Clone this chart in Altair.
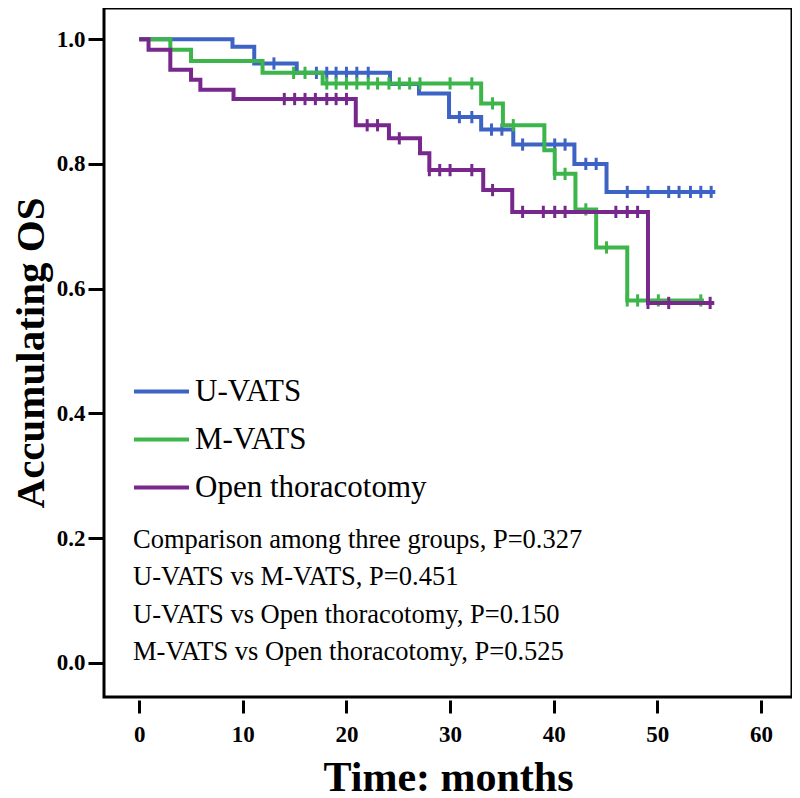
import altair as alt
import pandas as pd

groups = ["U-VATS", "M-VATS", "Open thoracotomy"]
colors = ["#3d63c5", "#3cb54a", "#78288c"]

# event times (months) and survival after each event
u_times = [9.0, 11.1, 15.2, 24.2, 27.0, 29.9, 33.0, 36.1, 42.0, 45.1]
u_surv = [0.988, 0.961, 0.946, 0.928, 0.913, 0.875, 0.855, 0.831, 0.800, 0.755]
u_cens = [13.0, 17.1, 18.1, 19.0, 20.0, 21.0, 22.1, 30.9, 32.1, 34.0, 35.0, 37.0,
          39.1, 40.1, 41.1, 43.1, 44.1, 47.1, 49.1, 51.1, 52.1, 53.2, 54.2, 55.2]
u_end = 55.6

g_times = [3.0, 5.0, 11.9, 17.7, 33.0, 35.1, 39.1, 40.1, 42.1, 44.1, 47.1]
g_surv = [0.983, 0.965, 0.946, 0.929, 0.897, 0.862, 0.822, 0.784, 0.727, 0.666, 0.581]
g_cens = [14.9, 16.0, 18.1, 19.0, 20.0, 21.0, 22.1, 23.0, 24.1, 25.1, 26.1, 27.1,
          30.0, 32.1, 34.1, 36.1, 40.1, 41.1, 43.1, 45.1, 47.1, 48.1, 50.1, 54.2]
g_end = 54.5

p_times = [0.9, 3.0, 5.0, 5.9, 9.1, 20.9, 24.1, 27.1, 28.0, 33.2, 36.0, 49.1]
p_surv = [0.983, 0.951, 0.935, 0.919, 0.904, 0.862, 0.841, 0.817, 0.790, 0.758, 0.723, 0.577]
p_cens = [14.0, 15.0, 16.0, 17.0, 18.1, 19.0, 20.0, 22.0, 23.0, 25.1, 28.0, 29.0, 30.0,
          32.1, 34.1, 37.0, 39.0, 40.1, 41.1, 46.0, 47.1, 48.1, 49.1, 51.1, 55.1]
p_end = 55.5

comparison_lines = [
    "Comparison among three groups, P=0.327",
    "U-VATS vs M-VATS, P=0.451",
    "U-VATS vs Open thoracotomy, P=0.150",
    "M-VATS vs Open thoracotomy, P=0.525",
]

x_ticks = [0, 10, 20, 30, 40, 50, 60]
y_ticks = [0.0, 0.2, 0.4, 0.6, 0.8, 1.0]

series = {
    "U-VATS": (u_times, u_surv, u_cens, u_end),
    "M-VATS": (g_times, g_surv, g_cens, g_end),
    "Open thoracotomy": (p_times, p_surv, p_cens, p_end),
}


def surv_at(times, surv, t):
    s = 1.0
    for ti, si in zip(times, surv):
        if t >= ti:
            s = si
    return s


line_rows, cens_rows = [], []
for g, (times, surv, cens, end) in series.items():
    line_rows.append({"group": g, "t": 0.0, "s": 1.0})
    for ti, si in zip(times, surv):
        line_rows.append({"group": g, "t": ti, "s": si})
    line_rows.append({"group": g, "t": end, "s": surv[-1]})
    for c in cens:
        cens_rows.append({"group": g, "t": c, "s": surv_at(times, surv, c)})

lines_df = pd.DataFrame(line_rows)
cens_df = pd.DataFrame(cens_rows)

FONT = "Liberation Serif"
xscale = alt.Scale(domain=[-3.4, 63.0], nice=False, zero=False)
yscale = alt.Scale(domain=[-0.055, 1.05], nice=False, zero=False)
cscale = alt.Scale(domain=groups, range=colors)

xenc = alt.X("t:Q", scale=xscale, axis=alt.Axis(
    values=x_ticks, format="d", title="Time: months", domain=False, grid=False,
    offset=3, tickSize=13, tickWidth=3, tickColor="black",
    labelPadding=10, labelFont=FONT, labelFontSize=23, labelFontWeight="bold",
    labelColor="black", titleFont=FONT, titleFontSize=42, titleFontWeight="bold",
    titleColor="black", titlePadding=11))
yenc = alt.Y("s:Q", scale=yscale, axis=alt.Axis(
    values=y_ticks, format=".1f", title="Accumulating OS", domain=False, grid=False,
    tickSize=16, tickWidth=3, tickColor="black",
    labelPadding=3, labelFont=FONT, labelFontSize=23, labelFontWeight="bold",
    labelColor="black", titleFont=FONT, titleFontSize=41, titleFontWeight="bold",
    titleColor="black", titlePadding=4))

legend = alt.Legend(
    title=None, orient="none", legendX=28, legendY=354, symbolType="stroke",
    symbolSize=3025, symbolStrokeWidth=4, labelFont=FONT, labelFontSize=31,
    labelColor="black", labelOffset=4, labelLimit=0, rowPadding=3, padding=0)

layers = []
for i, g in enumerate(groups):
    ldf = lines_df[lines_df.group == g]
    cdf = cens_df[cens_df.group == g]
    layers.append(alt.Chart(ldf).mark_line(interpolate="step-after", strokeWidth=4).encode(
        x=xenc, y=yenc,
        color=alt.Color("group:N", scale=cscale, legend=legend if i == 0 else None)))
    layers.append(alt.Chart(cdf).mark_point(
        shape="M0,-1L0,1", size=150, filled=False, strokeWidth=3, opacity=1).encode(
        x=alt.X("t:Q", scale=xscale), y=alt.Y("s:Q", scale=yscale),
        color=alt.Color("group:N", scale=cscale, legend=None)))

text_layer = alt.Chart(pd.DataFrame({"k": [0]})).mark_text(
    align="left", baseline="middle", font=FONT, fontSize=26.5, lineHeight=37.3,
    color="black").encode(
    x=alt.value(29), y=alt.value(532), text=alt.value(comparison_lines))

chart = alt.layer(*layers, text_layer).properties(
    width=688, height=689,
    background="white",
    autosize=alt.AutoSizeParams(type="none"),
    padding={"left": 96, "top": 0, "right": 0, "bottom": 101},
).configure_view(stroke="black", strokeWidth=3)

chart.save("out.html", embed_options={"renderer": "svg", "actions": False})
